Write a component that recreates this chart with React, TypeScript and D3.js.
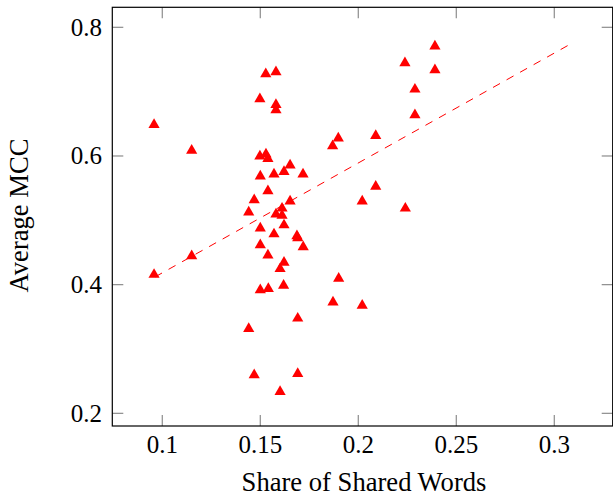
import React from "react";
import { scaleLinear, line } from "d3";

// share of shared words vs. average MCC
const shareWords = [
  0.0958, 0.115, 0.1498, 0.1528, 0.158, 0.158, 0.158, 0.2238, 0.2391, 0.2391,
  0.2289, 0.2289, 0.1898, 0.1869, 0.2089, 0.1498, 0.1529, 0.1539, 0.1652, 0.1621,
  0.157, 0.15, 0.1718, 0.1539, 0.2089, 0.1469, 0.1652, 0.202, 0.224, 0.1441,
  0.1611, 0.158, 0.1611, 0.1621, 0.15, 0.157, 0.1687, 0.1691, 0.1719, 0.15,
  0.1539, 0.115, 0.1621, 0.1601, 0.0958, 0.19, 0.1619, 0.15, 0.1541, 0.1871,
  0.202, 0.1691, 0.1441, 0.1469, 0.1691, 0.1601,
];
const avgMcc = [
  0.651, 0.611, 0.691, 0.730, 0.733, 0.682, 0.674, 0.747, 0.773, 0.736,
  0.706, 0.666, 0.630, 0.618, 0.634, 0.602, 0.605, 0.598, 0.588, 0.578,
  0.574, 0.571, 0.574, 0.548, 0.555, 0.534, 0.532, 0.532, 0.521, 0.515,
  0.521, 0.512, 0.510, 0.495, 0.490, 0.481, 0.478, 0.475, 0.461, 0.464,
  0.448, 0.447, 0.437, 0.427, 0.418, 0.412, 0.401, 0.394, 0.396, 0.375,
  0.370, 0.350, 0.334, 0.262, 0.264, 0.236,
];

// fitted trend line end points
const trendX = [0.0963, 0.31];
const trendY = [0.412, 0.777];

const xTicks = [0.1, 0.15, 0.2, 0.25, 0.3];
const yTicks = [0.2, 0.4, 0.6, 0.8];
const xTickLabels = ["0.1", "0.15", "0.2", "0.25", "0.3"];
const yTickLabels = ["0.2", "0.4", "0.6", "0.8"];

const width = 613;
const height = 498;
const left = 112.3;
const right = 612.7;
const top = 7.3;
const bottom = 426;
const tickLen = 11;
const font = "'Liberation Serif', 'Times New Roman', serif";

// triangle marker centred on its bounding box
const tri = "M0,-4.9L5.6,4.8L-5.6,4.8Z";

const App = () => {
  const x = scaleLinear().domain([0.0745, 0.3298]).range([left, right]);
  const y = scaleLinear().domain([0.1803, 0.8311]).range([bottom, top]);

  const trend = line<number>()
    .x((d) => x(d))
    .y((_, i) => y(trendY[i]));

  return (
    <svg
      width={width}
      height={height}
      style={{ position: "absolute", left: 0, top: 0, background: "#fff" }}
    >
      {/* ticks, inside on all four sides */}
      {xTicks.map((t) => (
        <g key={"xt" + t} stroke="#8c8c8c" strokeWidth={1.2}>
          <line x1={x(t)} x2={x(t)} y1={bottom} y2={bottom - tickLen} />
          <line x1={x(t)} x2={x(t)} y1={top} y2={top + tickLen} />
        </g>
      ))}
      {yTicks.map((t) => (
        <g key={"yt" + t} stroke="#8c8c8c" strokeWidth={1.2}>
          <line x1={left} x2={left + tickLen} y1={y(t)} y2={y(t)} />
          <line x1={right} x2={right - tickLen} y1={y(t)} y2={y(t)} />
        </g>
      ))}

      {/* trend line */}
      <path
        d={trend(trendX) || ""}
        fill="none"
        stroke="#ff0000"
        strokeWidth={1}
        strokeDasharray="8,7.5"
      />

      {/* points */}
      {shareWords.map((v, i) => (
        <path
          key={i}
          d={tri}
          transform={`translate(${x(v)},${y(avgMcc[i])})`}
          fill="#ff0000"
        />
      ))}

      {/* frame */}
      <rect
        x={left}
        y={top}
        width={right - left}
        height={bottom - top}
        fill="none"
        stroke="#000"
        strokeWidth={1.2}
      />

      {/* tick labels */}
      {xTicks.map((t, i) => (
        <text
          key={"xl" + t}
          x={x(t)}
          y={452.5}
          textAnchor="middle"
          fontFamily={font}
          fontSize={25}
          fill="#000"
        >
          {xTickLabels[i]}
        </text>
      ))}
      {yTicks.map((t, i) => (
        <text
          key={"yl" + t}
          x={102}
          y={y(t) + 8.5}
          textAnchor="end"
          fontFamily={font}
          fontSize={25}
          fill="#000"
        >
          {yTickLabels[i]}
        </text>
      ))}

      {/* axis titles */}
      <text
        x={364}
        y={490.5}
        textAnchor="middle"
        fontFamily={font}
        fontSize={26.6}
        fill="#000"
      >
        Share of Shared Words
      </text>
      <text
        transform="translate(28,215.5) rotate(-90)"
        textAnchor="middle"
        fontFamily={font}
        fontSize={26.6}
        fill="#000"
      >
        Average MCC
      </text>
    </svg>
  );
};

export default App;
